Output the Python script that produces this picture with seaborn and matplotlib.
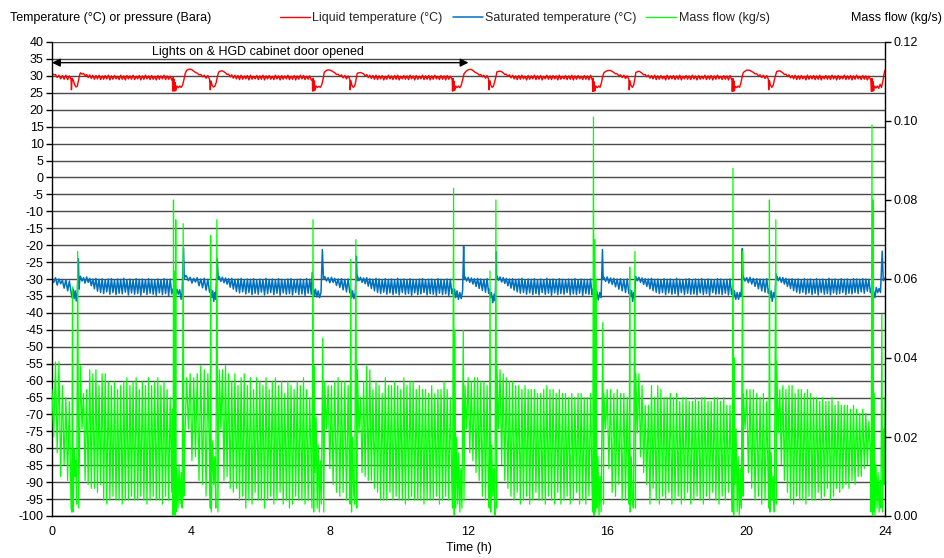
import numpy as np
import pandas as pd
import matplotlib
matplotlib.use("Agg")
import matplotlib.pyplot as plt
import seaborn as sns

# ---------------- data ----------------
# regular cycling periods between the refrigeration events (h)
seg_start = [0.00, 0.82, 3.88, 4.82, 7.86, 8.80, 11.90, 12.82, 15.90, 16.82, 19.92, 20.88]
seg_end   = [0.55, 3.45, 4.54, 7.47, 8.58, 11.52, 12.58, 15.56, 16.62, 19.58, 20.64, 23.58]

# mass flow (g/s) - successive cycle maxima / minima in each period
flow_peak_gs = [
    [32, 39, 39, 33, 30, 29],
    [38, 31, 32, 37, 36, 37, 33, 36, 36, 34, 33, 34, 32, 33, 34, 35, 33, 34, 35, 32,
     34, 33, 35, 33, 34, 35, 33, 34, 32, 30],
    [35, 36, 35, 36, 38, 37, 36],
    [37, 37, 38, 36, 34, 36, 33, 35, 36, 33, 35, 32, 35, 34, 33, 35, 32, 34, 35, 33,
     34, 31, 34, 33, 32, 34, 33, 35, 32, 30],
    [34, 33, 33, 34, 35, 34, 34, 33],
    [37, 30, 34, 38, 37, 32, 34, 33, 31, 35, 33, 33, 34, 33, 32, 35, 33, 34, 34, 32,
     33, 32, 32, 31, 33, 31, 32, 32, 34, 32, 30],
    [33, 35, 34, 35, 35, 34, 34, 33],
    [38, 37, 36, 35, 34, 34, 33, 33, 32, 33, 32, 32, 32, 31, 31, 32, 33, 32, 32, 31,
     32, 31, 31, 30, 31, 30, 31, 31, 30, 30, 31],
    [31, 32, 32, 31, 32, 31, 31, 30],
    [36, 36, 33, 28, 28, 33, 30, 33, 32, 30, 30, 31, 30, 31, 29, 30, 30, 29, 29, 30,
     29, 30, 30, 29, 29, 30, 30, 29, 30, 28, 28],
    [31, 32, 32, 32, 31, 30, 31, 29],
    [39, 32, 33, 32, 33, 33, 31, 32, 32, 31, 32, 31, 30, 30, 29, 30, 29, 29, 30, 28,
     29, 28, 28, 28, 27, 28, 27, 26, 27, 26, 24],
]
flow_trough_gs = [
    [20, 16, 10, 13, 9, 2],
    [22, 9, 8, 7, 7, 6, 8, 4, 3, 4, 5, 4, 4, 3, 4, 4, 5, 4, 4, 5,
     4, 3, 4, 5, 4, 4, 3, 5, 4, 6],
    [22, 14, 15, 9, 8, 5, 14],
    [22, 9, 10, 7, 6, 7, 4, 5, 2, 4, 3, 6, 4, 4, 2, 4, 5, 3, 4, 6,
     3, 4, 2, 3, 5, 4, 4, 3, 4, 10],
    [22, 12, 8, 6, 5, 6, 4, 4],
    [21, 11, 10, 9, 9, 7, 6, 4, 4, 4, 6, 4, 5, 4, 4, 3, 4, 5, 4, 4,
     4, 3, 4, 4, 4, 5, 3, 4, 5, 4, 8],
    [22, 16, 14, 11, 9, 5, 4, 3],
    [22, 13, 9, 7, 5, 4, 6, 3, 4, 5, 3, 4, 6, 4, 4, 3, 5, 4, 3, 6,
     3, 4, 5, 3, 4, 6, 3, 4, 3, 5, 6],
    [22, 12, 6, 5, 8, 4, 4, 3],
    [21, 15, 11, 8, 3, 7, 4, 3, 5, 4, 6, 3, 4, 5, 3, 4, 6, 3, 4, 5,
     4, 3, 5, 4, 6, 4, 3, 5, 4, 6, 7],
    [22, 11, 7, 4, 5, 3, 4, 5],
    [21, 13, 9, 6, 4, 3, 5, 4, 4, 3, 5, 4, 4, 6, 4, 5, 7, 4, 5, 7,
     6, 7, 8, 7, 9, 8, 10, 10, 12, 13, 15],
]
# mass flow (g/s) during the events
flow_ev_t = [0.57, 0.59, 0.61, 0.64, 0.66, 0.68, 0.71, 0.74, 0.77,
             3.47, 3.49, 3.50, 3.52, 3.535, 3.55, 3.565, 3.58, 3.60, 3.63, 3.66, 3.69, 3.72, 3.75, 3.78, 3.80, 3.83,
             4.56, 4.57, 4.59, 4.63, 4.66, 4.69, 4.72, 4.75, 4.78,
             7.49, 7.52, 7.54, 7.56, 7.58, 7.61, 7.64, 7.67, 7.70, 7.73, 7.76, 7.80, 7.83,
             8.59, 8.61, 8.63, 8.66, 8.69, 8.72, 8.755, 8.78,
             11.54, 11.57, 11.59, 11.61, 11.63, 11.66, 11.69, 11.72, 11.75, 11.78, 11.81, 11.85, 11.87,
             12.60, 12.62, 12.64, 12.67, 12.70, 12.73, 12.76, 12.79, 12.81,
             15.58, 15.60, 15.62, 15.64, 15.66, 15.68, 15.70, 15.73, 15.76, 15.79, 15.82, 15.87, 15.89,
             16.63, 16.645, 16.66, 16.69, 16.72, 16.75, 16.795, 16.81,
             19.60, 19.62, 19.64, 19.66, 19.68, 19.71, 19.74, 19.77, 19.80, 19.83, 19.86, 19.895, 19.91,
             20.655, 20.67, 20.69, 20.72, 20.75, 20.78, 20.81, 20.855, 20.87,
             23.60, 23.625, 23.64, 23.655, 23.67, 23.69, 23.71, 23.74, 23.77, 23.80, 23.83, 23.86, 23.88,
             23.91, 23.93, 23.96, 23.98, 24.0]
flow_ev_gs = [1, 58, 1, 17, 10, 14, 3, 67, 2,
              27, 0, 80, 1, 62, 0, 75, 1, 12, 2, 13, 3, 11, 2, 74, 5, 20,
              2, 71, 1, 19, 8, 15, 2, 75, 1,
              2, 75, 1, 38, 11, 25, 2, 18, 1, 14, 3, 45, 1,
              3, 65, 1, 20, 6, 3, 70, 2,
              2, 83, 0, 47, 2, 20, 3, 16, 1, 12, 2, 47, 4,
              2, 62, 1, 18, 5, 12, 0, 80, 2,
              1, 101, 0, 70, 1, 60, 2, 15, 0, 10, 1, 49, 3,
              3, 63, 1, 15, 4, 2, 67, 2,
              1, 88, 0, 40, 8, 22, 1, 15, 0, 12, 2, 67, 5,
              2, 80, 1, 16, 4, 10, 1, 75, 3,
              1, 99, 0, 80, 1, 31, 0, 13, 2, 11, 1, 9, 2,
              51, 1, 22, 8, 30]

# saturated temperature (°C)
sat_peak = [
    [-30.3, -29.6, -30.0, -30.4, -30.2, -30.6],
    [-29.2, -29.6, -29.4, -29.8, -30.0, -29.8, -30.1, -29.9, -30.2, -30.0, -29.9, -30.3, -30.0, -30.1, -29.8,
     -30.2, -30.0, -30.3, -29.9, -30.1, -30.0, -30.2, -29.9, -30.1, -30.3, -30.0, -30.2, -29.9, -30.1, -30.0],
    [-29.2, -29.5, -29.8, -29.6, -30.0, -29.8, -30.1],
    [-29.3, -29.5, -29.7, -29.9, -29.8, -30.1, -30.0, -29.8, -30.2, -30.0, -30.1, -29.9, -30.3, -30.0, -30.2,
     -29.8, -30.1, -30.0, -30.3, -29.9, -30.1, -30.2, -30.0, -29.9, -30.2, -30.1, -30.0, -30.3, -29.9, -30.1],
    [-29.3, -29.6, -29.5, -29.8, -30.0, -29.9, -30.1, -30.0],
    [-29.2, -29.5, -29.7, -29.6, -29.9, -30.1, -29.8, -30.0, -30.2, -29.9, -30.1, -30.0, -30.3, -29.8, -30.1,
     -30.0, -30.2, -29.9, -30.1, -30.3, -30.0, -29.9, -30.2, -30.1, -30.0, -30.2, -29.9, -30.1, -30.3, -30.0, -30.1],
    [-29.4, -29.5, -29.7, -29.9, -29.8, -30.0, -30.1, -29.9],
    [-29.2, -29.4, -29.6, -29.8, -30.0, -29.9, -30.1, -30.0, -29.8, -30.2, -30.0, -30.1, -29.9, -30.3, -30.0,
     -30.2, -29.8, -30.1, -30.0, -30.2, -29.9, -30.1, -30.3, -30.0, -30.1, -29.9, -30.2, -30.0, -30.1, -30.3, -30.0],
    [-29.5, -29.4, -29.7, -29.8, -30.0, -29.9, -30.1, -30.0],
    [-29.3, -29.5, -29.7, -29.9, -30.0, -29.8, -30.1, -30.0, -30.2, -29.9, -30.1, -30.0, -30.2, -29.8, -30.1,
     -30.3, -30.0, -29.9, -30.2, -30.0, -30.1, -29.9, -30.3, -30.0, -30.1, -30.2, -29.9, -30.0, -30.2, -30.1, -30.0],
    [-29.4, -29.6, -29.5, -29.8, -29.9, -30.0, -30.1, -29.9],
    [-29.2, -29.5, -29.6, -29.8, -30.0, -29.9, -30.1, -30.0, -30.2, -29.9, -30.1, -30.0, -30.3, -29.9, -30.1,
     -30.0, -30.2, -29.8, -30.1, -30.0, -30.2, -29.9, -30.1, -30.0, -30.2, -29.9, -30.0, -30.1, -29.9, -30.0, -30.1],
]
sat_trough = [
    [-31.0, -31.8, -31.4, -32.7, -33.5, -34.0],
    [-30.6, -31.2, -31.0, -32.0, -32.9, -33.6, -34.0, -34.3, -33.8, -34.5, -34.0, -34.6, -34.2, -34.4, -33.9,
     -34.7, -34.1, -34.5, -34.3, -34.8, -34.0, -34.6, -34.2, -34.5, -34.8, -34.1, -34.6, -34.3, -34.9, -34.4],
    [-30.5, -31.2, -30.9, -32.0, -32.6, -33.3, -33.9],
    [-30.7, -31.1, -31.5, -32.4, -33.0, -33.7, -34.1, -33.8, -34.4, -34.0, -34.6, -34.2, -34.5, -33.9, -34.7,
     -34.3, -34.0, -34.6, -34.2, -34.8, -34.1, -34.5, -34.3, -34.7, -34.0, -34.6, -34.4, -34.8, -34.2, -34.5],
    [-30.6, -31.1, -31.0, -31.9, -32.5, -33.2, -33.8, -34.1],
    [-30.5, -31.0, -31.4, -32.1, -32.8, -33.5, -34.0, -34.3, -33.9, -34.5, -34.1, -34.6, -34.2, -34.7, -34.0,
     -34.5, -34.3, -34.8, -34.1, -34.6, -34.4, -34.0, -34.7, -34.3, -34.5, -34.8, -34.2, -34.6, -34.4, -34.9, -34.3],
    [-30.6, -31.0, -31.5, -32.2, -32.8, -33.4, -33.9, -34.2],
    [-30.4, -30.9, -31.3, -32.0, -32.7, -33.3, -33.8, -34.2, -34.0, -34.5, -34.1, -34.6, -34.3, -34.7, -34.0,
     -34.5, -34.2, -34.8, -34.1, -34.6, -34.3, -34.5, -34.0, -34.7, -34.4, -34.6, -34.2, -34.8, -34.3, -34.5, -34.6],
    [-30.7, -31.2, -31.6, -32.3, -33.0, -33.5, -34.0, -34.3],
    [-30.5, -31.0, -31.6, -32.2, -32.9, -33.4, -33.9, -34.3, -34.0, -34.6, -34.1, -34.5, -34.3, -34.8, -34.0,
     -34.6, -34.2, -34.5, -34.4, -34.7, -34.1, -34.6, -34.3, -34.8, -34.0, -34.5, -34.4, -34.6, -34.2, -34.7, -34.5],
    [-30.6, -31.1, -31.5, -32.2, -32.9, -33.5, -33.9, -34.2],
    [-30.5, -31.0, -31.5, -32.2, -32.8, -33.4, -33.9, -34.2, -33.9, -34.5, -34.1, -34.6, -34.2, -34.7, -34.0,
     -34.5, -34.3, -34.7, -34.1, -34.5, -34.3, -34.0, -34.6, -34.2, -34.4, -34.0, -34.3, -33.8, -34.2, -33.6, -34.0],
]
sat_ev_t = [0.58, 0.61, 0.64, 0.67, 0.70, 0.73, 0.76, 0.78, 0.80,
            3.48, 3.51, 3.54, 3.57, 3.60, 3.64, 3.68, 3.72, 3.75, 3.79, 3.81, 3.84,
            4.57, 4.60, 4.63, 4.66, 4.69, 4.72, 4.76, 4.79,
            7.50, 7.53, 7.56, 7.59, 7.63, 7.67, 7.71, 7.75, 7.79, 7.82, 7.85,
            8.60, 8.63, 8.66, 8.70, 8.74, 8.77, 8.79,
            11.54, 11.57, 11.60, 11.63, 11.67, 11.71, 11.75, 11.79, 11.83, 11.86, 11.88,
            12.60, 12.63, 12.66, 12.70, 12.74, 12.77, 12.80, 12.81,
            15.58, 15.61, 15.64, 15.67, 15.70, 15.74, 15.78, 15.82, 15.86, 15.88,
            16.64, 16.67, 16.70, 16.73, 16.76, 16.79, 16.81,
            19.60, 19.63, 19.66, 19.70, 19.74, 19.78, 19.82, 19.86, 19.89, 19.91,
            20.66, 20.69, 20.72, 20.75, 20.79, 20.83, 20.86, 20.87,
            23.60, 23.63, 23.67, 23.71, 23.75, 23.79, 23.83, 23.87, 23.92, 23.95, 24.0]
sat_ev_v = [-35.5, -33.0, -35.8, -33.5, -36.5, -34.0, -24.0, -33.0, -30.0,
            -33.0, -34.5, -32.8, -34.6, -33.0, -34.5, -33.2, -36.0, -34.0, -20.8, -30.0, -29.0,
            -33.0, -35.5, -33.5, -36.6, -34.0, -36.0, -24.0, -30.0,
            -28.0, -33.0, -35.0, -33.0, -35.3, -33.5, -35.5, -34.0, -21.3, -30.0, -29.5,
            -33.0, -35.6, -33.5, -35.8, -34.0, -23.3, -30.5,
            -33.0, -35.0, -33.0, -35.5, -33.5, -36.0, -34.0, -35.8, -33.5, -20.3, -30.0,
            -33.0, -35.5, -34.0, -37.0, -34.5, -36.5, -22.0, -30.0,
            -33.0, -35.5, -33.5, -36.0, -33.8, -36.2, -34.0, -35.5, -21.3, -30.0,
            -33.0, -35.0, -33.5, -36.6, -34.0, -35.5, -30.5,
            -33.0, -35.5, -33.5, -36.0, -34.0, -36.0, -34.0, -35.0, -21.0, -30.0,
            -33.0, -35.5, -33.5, -36.6, -34.0, -35.5, -28.5, -30.0,
            -33.0, -36.0, -33.5, -35.5, -32.5, -34.0, -32.8, -34.0, -21.8, -30.5, -29.7]

# liquid temperature (°C)
liq_peak = [
    [30.8, 30.4, 30.2, 30.1, 30.2, 30.0],
    [30.9, 30.7, 30.4, 30.3, 30.2, 30.1, 30.2, 30.0, 30.1, 30.2, 30.0, 30.1, 29.9, 30.2, 30.0,
     30.1, 30.0, 30.2, 29.9, 30.1, 30.0, 30.2, 30.0, 30.1, 29.9, 30.1, 30.0, 30.2, 30.0, 29.9],
    [31.6, 32.0, 31.4, 30.8, 30.4, 30.2, 30.1],
    [31.3, 31.5, 30.9, 30.5, 30.3, 30.2, 30.1, 30.2, 30.0, 30.1, 30.2, 29.9, 30.1, 30.0, 30.2,
     30.0, 30.1, 29.9, 30.2, 30.0, 30.1, 30.0, 30.2, 29.9, 30.1, 30.0, 30.2, 30.1, 29.9, 30.0],
    [31.2, 31.8, 31.5, 30.9, 30.5, 30.3, 30.1, 30.0],
    [30.8, 31.0, 30.6, 30.4, 30.2, 30.1, 30.2, 30.0, 30.1, 29.9, 30.2, 30.0, 30.1, 30.2, 29.9,
     30.1, 30.0, 30.2, 30.0, 30.1, 29.9, 30.2, 30.0, 30.1, 30.0, 30.2, 29.9, 30.1, 30.0, 30.1, 29.9],
    [31.0, 31.8, 31.9, 31.2, 30.7, 30.4, 30.2, 30.1],
    [31.2, 31.4, 30.9, 30.5, 30.3, 30.2, 30.0, 30.1, 30.2, 29.9, 30.1, 30.0, 30.2, 30.0, 30.1,
     29.9, 30.2, 30.0, 30.1, 30.0, 30.2, 29.9, 30.1, 30.0, 30.2, 30.0, 30.1, 29.9, 30.1, 30.0, 30.2],
    [30.9, 31.5, 31.6, 31.0, 30.6, 30.3, 30.2, 30.0],
    [31.0, 31.4, 30.8, 30.4, 30.2, 30.1, 30.2, 30.0, 30.1, 29.9, 30.2, 30.0, 30.1, 30.0, 30.2,
     29.9, 30.1, 30.0, 30.2, 30.0, 30.1, 29.9, 30.2, 30.0, 30.1, 30.0, 30.2, 29.9, 30.1, 30.0, 30.1],
    [31.0, 31.7, 31.6, 31.0, 30.6, 30.3, 30.2, 30.1],
    [31.3, 31.5, 30.9, 30.5, 30.3, 30.1, 30.2, 30.0, 30.1, 29.9, 30.2, 30.0, 30.1, 30.0, 30.2,
     29.9, 30.1, 30.0, 30.2, 30.0, 30.1, 29.9, 30.2, 30.0, 30.1, 30.0, 30.2, 29.9, 30.1, 30.0, 29.9],
]
liq_trough = [
    [30.3, 29.5, 29.1, 29.0, 28.9, 29.0],
    [30.5, 30.0, 29.5, 29.2, 29.0, 29.1, 28.9, 29.0, 29.1, 28.8, 29.0, 29.1, 28.9, 29.0, 28.8,
     29.1, 29.0, 28.9, 29.1, 28.8, 29.0, 29.1, 28.9, 29.0, 28.8, 29.0, 29.1, 28.9, 29.0, 28.8],
    [31.9, 31.8, 31.0, 30.3, 29.7, 29.3, 29.0],
    [31.4, 31.2, 30.4, 29.7, 29.3, 29.1, 28.9, 29.0, 29.1, 28.8, 29.0, 29.1, 28.9, 29.0, 28.8,
     29.1, 29.0, 28.9, 29.1, 28.8, 29.0, 29.1, 28.9, 29.0, 28.8, 29.0, 29.1, 28.9, 29.0, 28.8],
    [31.6, 31.7, 31.2, 30.4, 29.8, 29.4, 29.1, 29.0],
    [30.9, 30.8, 30.0, 29.5, 29.2, 29.0, 28.9, 29.1, 28.8, 29.0, 29.1, 28.9, 29.0, 28.8, 29.1,
     29.0, 28.9, 29.1, 28.8, 29.0, 29.1, 28.9, 29.0, 28.8, 29.0, 29.1, 28.9, 29.0, 28.8, 29.0, 29.1],
    [31.5, 31.9, 31.6, 30.9, 30.2, 29.7, 29.3, 29.0],
    [31.3, 31.2, 30.4, 29.8, 29.4, 29.1, 28.9, 29.0, 29.1, 28.8, 29.0, 29.1, 28.9, 29.0, 28.8,
     29.1, 29.0, 28.9, 29.1, 28.8, 29.0, 29.1, 28.9, 29.0, 28.8, 29.0, 29.1, 28.9, 29.0, 28.8, 29.0],
    [31.3, 31.6, 31.3, 30.6, 30.0, 29.5, 29.2, 29.0],
    [31.2, 31.1, 30.3, 29.7, 29.3, 29.1, 28.9, 29.0, 29.1, 28.8, 29.0, 29.1, 28.9, 29.0, 28.8,
     29.1, 29.0, 28.9, 29.1, 28.8, 29.0, 29.1, 28.9, 29.0, 28.8, 29.0, 29.1, 28.9, 29.0, 28.8, 29.0],
    [31.4, 31.7, 31.3, 30.6, 30.0, 29.5, 29.2, 29.0],
    [31.4, 31.2, 30.4, 29.8, 29.4, 29.1, 28.9, 29.0, 29.1, 28.8, 29.0, 29.1, 28.9, 29.0, 28.8,
     29.1, 29.0, 28.9, 29.1, 28.8, 29.0, 29.1, 28.9, 29.0, 28.8, 29.0, 29.1, 28.9, 29.0, 28.8, 29.0],
]
liq_ev_t = [0.56, 0.58, 0.61, 0.65, 0.69, 0.73, 0.77, 0.80,
            3.47, 3.48, 3.49, 3.51, 3.52, 3.54, 3.55, 3.57, 3.60, 3.64, 3.68, 3.72, 3.76, 3.80, 3.84,
            4.56, 4.58, 4.61, 4.65, 4.69, 4.73, 4.77, 4.80,
            7.50, 7.51, 7.53, 7.545, 7.56, 7.58, 7.61, 7.65, 7.69, 7.73, 7.77, 7.81, 7.84,
            8.59, 8.61, 8.64, 8.68, 8.72, 8.75, 8.78,
            11.53, 11.54, 11.555, 11.57, 11.585, 11.60, 11.63, 11.67, 11.71, 11.75, 11.79, 11.83, 11.87,
            12.59, 12.61, 12.64, 12.68, 12.72, 12.76, 12.80,
            15.57, 15.58, 15.595, 15.61, 15.625, 15.64, 15.67, 15.71, 15.75, 15.79, 15.83, 15.87,
            16.63, 16.65, 16.68, 16.72, 16.76, 16.80,
            19.59, 19.60, 19.615, 19.63, 19.645, 19.66, 19.69, 19.73, 19.77, 19.81, 19.85, 19.89,
            20.65, 20.67, 20.70, 20.74, 20.78, 20.83,
            23.59, 23.61, 23.625, 23.64, 23.655, 23.67, 23.70, 23.74, 23.78, 23.82, 23.86, 23.90,
            23.94, 23.97, 24.0]
liq_ev_v = [25.9, 29.3, 28.8, 27.5, 26.7, 27.0, 29.0, 30.4,
            29.0, 25.5, 29.5, 25.6, 29.0, 25.5, 28.0, 25.7, 27.0, 26.5, 27.0, 26.6, 27.2, 28.8, 30.8,
            25.9, 28.5, 27.3, 26.7, 26.9, 28.0, 30.0, 31.0,
            29.0, 25.5, 29.3, 25.6, 28.5, 25.8, 27.0, 26.6, 26.9, 26.6, 27.3, 29.0, 30.9,
            25.9, 28.6, 27.2, 26.6, 27.0, 28.3, 30.2,
            29.0, 25.5, 29.2, 25.6, 28.4, 25.7, 27.0, 26.5, 27.0, 26.5, 27.2, 28.8, 30.6,
            25.9, 28.6, 27.3, 26.6, 27.0, 28.5, 30.2,
            29.0, 25.4, 29.3, 25.5, 28.2, 25.6, 27.0, 26.5, 27.0, 26.6, 28.0, 30.0,
            25.9, 28.6, 27.2, 26.6, 27.3, 29.5,
            29.0, 25.4, 29.2, 25.5, 28.5, 25.6, 26.9, 26.5, 27.0, 26.6, 28.0, 30.0,
            25.9, 28.6, 27.2, 26.6, 27.3, 29.6,
            29.0, 25.4, 29.2, 25.5, 28.3, 25.6, 27.0, 26.4, 27.0, 26.3, 27.5, 26.6,
            28.5, 30.5, 31.7]

annotation_text = "Lights on & HGD cabinet door opened"
x_ticks = [0, 4, 8, 12, 16, 20, 24]


# ---------------- assemble series ----------------
def build_series(peaks, troughs, ev_t, ev_v):
    ts, vs = [], []
    for s, e, p, q in zip(seg_start, seg_end, peaks, troughs):
        n = min(len(p), len(q))
        tt = np.linspace(s, e, 2 * n)
        vv = np.empty(2 * n)
        vv[0::2] = p[:n]
        vv[1::2] = q[:n]
        ts.extend(tt)
        vs.extend(vv)
    ts.extend(ev_t)
    vs.extend(ev_v)
    df = pd.DataFrame({"t": ts, "v": vs}).sort_values("t").reset_index(drop=True)
    return df


liq = build_series(liq_peak, liq_trough, liq_ev_t, liq_ev_v)
sat = build_series(sat_peak, sat_trough, sat_ev_t, sat_ev_v)
flow = build_series(flow_peak_gs, flow_trough_gs, flow_ev_t, flow_ev_gs)
flow["v"] = flow["v"] / 1000.0

# ---------------- plot ----------------
sns.set_theme(style="white")
plt.rcParams["font.family"] = ["Liberation Sans", "DejaVu Sans"]
plt.rcParams["font.size"] = 9
plt.rcParams["axes.unicode_minus"] = False

fig = plt.figure(figsize=(9.44, 5.58), dpi=100)
ax = fig.add_axes([52 / 944, 1 - 516 / 558, (885 - 52) / 944, (516 - 42) / 558])
ax2 = ax.twinx()

sns.lineplot(data=liq, x="t", y="v", ax=ax, color="#ff0000", lw=1.0,
             estimator=None, sort=True, label="Liquid temperature (°C)")
sns.lineplot(data=sat, x="t", y="v", ax=ax, color="#0070c0", lw=1.1,
             estimator=None, sort=True, label="Saturated temperature (°C)")
sns.lineplot(data=flow, x="t", y="v", ax=ax2, color="#00ff00", lw=0.9,
             estimator=None, sort=True, label="Mass flow (kg/s)")

for a in (ax, ax2):
    if a.get_legend() is not None:
        a.get_legend().remove()

ax.set_xlim(0, 24)
ax.set_ylim(-100, 40)
ax.set_xticks(x_ticks)
ax.set_yticks(np.arange(-100, 41, 5))
ax2.set_ylim(0, 0.12)
ax2.set_yticks(np.arange(0, 0.1201, 0.02))
ax2.yaxis.set_major_formatter(matplotlib.ticker.FormatStrFormatter("%.2f"))

ax.yaxis.grid(True, color="#4a4a4a", lw=1.0)
ax.xaxis.grid(False)
ax2.grid(False)
ax.set_axisbelow(True)

for a in (ax, ax2):
    a.tick_params(direction="out", length=4, width=1, color="black",
                  labelsize=9, pad=2, labelcolor="black")
ax.tick_params(axis="x", pad=3)
ax.spines["top"].set_visible(False)
ax.spines["right"].set_visible(False)
for s in ("left", "bottom"):
    ax.spines[s].set_color("black")
    ax.spines[s].set_linewidth(1.0)
for s in ("top", "left", "bottom"):
    ax2.spines[s].set_visible(False)
ax2.spines["right"].set_color("black")
ax2.spines["right"].set_linewidth(1.0)

ax.set_ylabel("")
ax2.set_ylabel("")
ax.set_xlabel("Time (h)", fontsize=9, labelpad=3, color="black")

fig.text(10 / 944, 1 - 18 / 558, "Temperature (°C) or pressure (Bara)",
         ha="left", va="center", fontsize=9, color="black")
fig.text(942 / 944, 1 - 18 / 558, "Mass flow (kg/s)",
         ha="right", va="center", fontsize=9, color="black")

h1, l1 = ax.get_legend_handles_labels()
h2, l2 = ax2.get_legend_handles_labels()
fig.legend(h1 + h2, l1 + l2, loc="center", bbox_to_anchor=(0.556, 1 - 18 / 558),
           ncol=3, frameon=False, fontsize=9, handlelength=2.4,
           handletextpad=0.2, columnspacing=0.8)

ax.annotate("", xy=(12, 33.9), xytext=(0, 33.9),
            arrowprops=dict(arrowstyle="<|-|>", color="black", lw=1.0,
                            mutation_scale=12, shrinkA=0, shrinkB=0))
ax.text(5.94, 36.9, annotation_text, ha="center", va="center", fontsize=9, color="black")

fig.savefig("out.png", dpi=100)
